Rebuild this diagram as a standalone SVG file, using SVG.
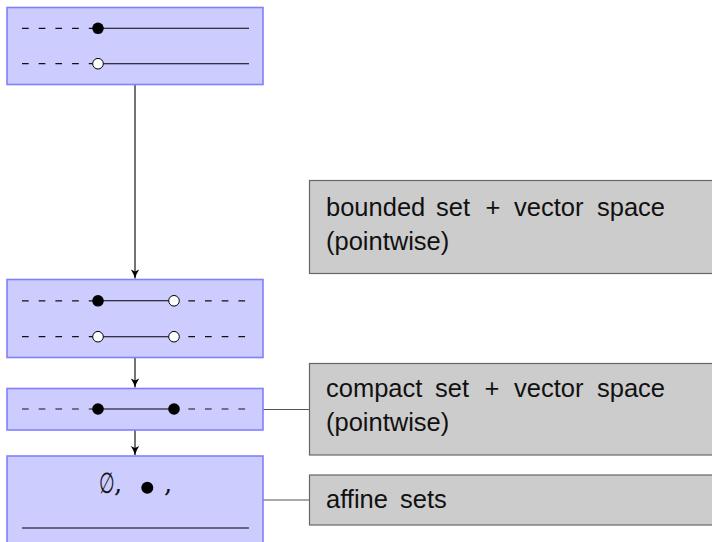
<svg xmlns="http://www.w3.org/2000/svg" width="712" height="542" viewBox="0 0 712 542">
<style>
.blue{fill:#ccccff;stroke:#8080ff;stroke-width:1.6}
.gray{fill:#cccccc;stroke:#666666;stroke-width:1.2}
.lbl{font-family:"Liberation Sans",Arial,sans-serif;font-size:25.5px;fill:#111}
.math{font-family:"DejaVu Serif","Liberation Serif",serif;font-size:26px;fill:#111}
.dash{stroke:#111;stroke-width:1.2;stroke-dasharray:6.7 10;fill:none}
.solid{stroke:#000;stroke-width:1.1;fill:none}
.fdot{fill:#000}
.odot{fill:#fff;stroke:#000;stroke-width:1}
.conn{stroke:#000;stroke-width:1.1;fill:none}
.link{stroke:#555;stroke-width:1.2;fill:none}
</style>
<defs>
<marker id="arr" markerUnits="userSpaceOnUse" markerWidth="12" markerHeight="12" refX="10" refY="6" orient="auto">
<path d="M1,1.8 Q5,4.6 10,6 Q5,7.4 1,10.2 L3,6 Z" fill="#000"/>
</marker>
</defs>

<g id="connectors">
<line class="conn" x1="135" y1="85" x2="135" y2="278.5" marker-end="url(#arr)"/>
<line class="conn" x1="135" y1="357.5" x2="135" y2="387.5" marker-end="url(#arr)"/>
<line class="conn" x1="135" y1="430" x2="135" y2="455" marker-end="url(#arr)"/>
<line class="link" x1="263" y1="409.5" x2="309" y2="409.5"/>
<line class="link" x1="263" y1="500" x2="309" y2="500"/>
</g>

<g id="node-top">
<rect class="blue" x="7" y="7.5" width="256" height="77"/>
<line class="dash" x1="22" y1="28.3" x2="96" y2="28.3"/>
<line class="solid" x1="98" y1="28.3" x2="249" y2="28.3"/>
<circle class="fdot" cx="98" cy="28.3" r="5.8"/>
<line class="dash" x1="22" y1="63.7" x2="96" y2="63.7"/>
<line class="solid" x1="98" y1="63.7" x2="249" y2="63.7"/>
<circle class="odot" cx="98" cy="63.7" r="5.3"/>
</g>

<g id="node-bounded">
<rect class="blue" x="7" y="279.5" width="256" height="78"/>
<line class="dash" x1="22" y1="300.8" x2="96" y2="300.8"/>
<line class="solid" x1="98" y1="300.8" x2="174" y2="300.8"/>
<line class="dash" x1="188.3" y1="300.8" x2="248" y2="300.8"/>
<circle class="fdot" cx="98" cy="300.8" r="5.8"/>
<circle class="odot" cx="174" cy="300.8" r="5.3"/>
<line class="dash" x1="22" y1="336.7" x2="96" y2="336.7"/>
<line class="solid" x1="98" y1="336.7" x2="174" y2="336.7"/>
<line class="dash" x1="188.3" y1="336.7" x2="248" y2="336.7"/>
<circle class="odot" cx="98" cy="336.7" r="5.3"/>
<circle class="odot" cx="174" cy="336.7" r="5.3"/>
</g>

<g id="node-compact">
<rect class="blue" x="7" y="388.5" width="256" height="41.5"/>
<line class="dash" x1="22" y1="409" x2="96" y2="409"/>
<line class="solid" x1="98" y1="409" x2="174" y2="409"/>
<line class="dash" x1="188.3" y1="409" x2="248" y2="409"/>
<circle class="fdot" cx="98" cy="409" r="5.8"/>
<circle class="fdot" cx="174" cy="409" r="5.8"/>
</g>

<g id="node-affine">
<rect class="blue" x="7" y="456" width="256" height="100"/>
<text class="math" style="font-size:29px" transform="translate(99,493) scale(0.62,1)">∅</text>
<text class="math" x="114" y="492">,</text>
<circle class="fdot" cx="147.3" cy="487.7" r="6"/>
<text class="math" x="164" y="492">,</text>
<line class="solid" x1="22" y1="528" x2="249" y2="528"/>
</g>

<g id="label-bounded">
<rect class="gray" x="309.5" y="180.5" width="410" height="93"/>
<text class="lbl" y="216"><tspan x="326">bounded</tspan><tspan x="436">set</tspan><tspan x="485.5">+</tspan><tspan x="514">vector</tspan><tspan x="597">space</tspan></text>
<text class="lbl" x="326" y="250">(pointwise)</text>
</g>

<g id="label-compact">
<rect class="gray" x="309.5" y="363.5" width="410" height="91.5"/>
<text class="lbl" y="397"><tspan x="326">compact</tspan><tspan x="435">set</tspan><tspan x="484.5">+</tspan><tspan x="514">vector</tspan><tspan x="597">space</tspan></text>
<text class="lbl" x="326" y="431">(pointwise)</text>
</g>

<g id="label-affine">
<rect class="gray" x="309.5" y="475" width="410" height="50"/>
<text class="lbl" y="508"><tspan x="326">affine</tspan><tspan x="400">sets</tspan></text>
</g>
</svg>
